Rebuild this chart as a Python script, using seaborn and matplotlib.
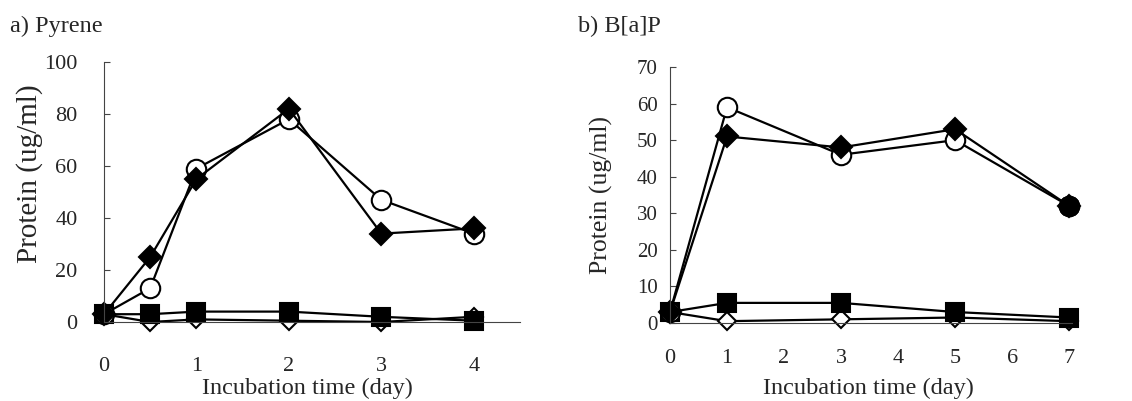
import matplotlib
matplotlib.use("Agg")
import matplotlib.pyplot as plt
import pandas as pd
import seaborn as sns

sns.set_theme(style="white")
plt.rcParams['font.family'] = ['Liberation Serif', 'DejaVu Serif']

# a) Pyrene
days_a = [0, 0.5, 1, 2, 3, 4]
pyr_filled_diamond = [3, 25, 55, 82, 34, 36]
pyr_open_circle = [3, 13, 59, 78, 47, 34]
pyr_filled_square = [3, 3, 4, 4, 2, 0.5]
pyr_open_diamond = [3, 0, 1, 0.5, 0, 2]

# b) B[a]P
days_b = [0, 1, 3, 5, 7]
bap_open_circle = [3, 59, 46, 50, 32]
bap_filled_diamond = [3, 51, 48, 53, 32]
bap_filled_square = [3, 5.5, 5.5, 3, 1.5]
bap_open_diamond = [3, 0.5, 1, 1.5, 0.5]
bap_filled_circle_x = [7]
bap_filled_circle = [32]

styles = {
    "open_diamond": dict(marker="D", markersize=9, markerfacecolor="white"),
    "filled_square": dict(marker="s", markersize=13, markerfacecolor="black"),
    "open_circle": dict(marker="o", markersize=14, markerfacecolor="white"),
    "filled_diamond": dict(marker="D", markersize=11, markerfacecolor="black"),
    "filled_circle": dict(marker="o", markersize=14, markerfacecolor="black"),
}


def draw(ax, x, y, kind):
    st = styles[kind]
    sns.lineplot(x=x, y=y, ax=ax, color="black", linewidth=1.6,
                 markeredgecolor="black", markeredgewidth=1.5,
                 clip_on=False, **st)


fig = plt.figure(figsize=(11.32, 4.01), dpi=100)
ax1 = fig.add_axes([104 / 1132, 1 - 322 / 401, 416 / 1132, 260 / 401])
ax2 = fig.add_axes([670 / 1132, 1 - 323 / 401, 402 / 1132, 256 / 401])

draw(ax1, days_a, pyr_open_diamond, "open_diamond")
draw(ax1, days_a, pyr_filled_square, "filled_square")
draw(ax1, days_a, pyr_open_circle, "open_circle")
draw(ax1, days_a, pyr_filled_diamond, "filled_diamond")

draw(ax2, days_b, bap_open_diamond, "open_diamond")
draw(ax2, days_b, bap_filled_square, "filled_square")
draw(ax2, days_b, bap_open_circle, "open_circle")
draw(ax2, days_b, bap_filled_diamond, "filled_diamond")
draw(ax2, bap_filled_circle_x, bap_filled_circle, "filled_circle")

ax1.set_xlim(0, 4.5)
ax1.set_ylim(0, 100)
ax1.set_xticks([0, 1, 2, 3, 4])
ax1.set_yticks([0, 20, 40, 60, 80, 100])
ax2.set_xlim(0, 7.05)
ax2.set_ylim(0, 70)
ax2.set_xticks(range(8))
ax2.set_yticks(range(0, 71, 10))

for ax in (ax1, ax2):
    for s in ("top", "right"):
        ax.spines[s].set_visible(False)
    for s in ("left", "bottom"):
        ax.spines[s].set_color("#444444")
        ax.spines[s].set_linewidth(0.8)
    ax.grid(False)

ax1.tick_params(axis="y", direction="in", length=4, width=0.8,
                color="#444444", left=True, labelsize=16, pad=19)
ax1.tick_params(axis="x", length=0, labelsize=16, pad=25)
ax2.tick_params(axis="y", direction="in", length=4, width=0.8,
                color="#444444", left=True, labelsize=15, pad=9)
ax2.tick_params(axis="x", length=0, labelsize=16, pad=19)

ax1.set_xlabel("Incubation time (day)", fontsize=17.5)
ax1.set_ylabel("Protein (ug/ml)", fontsize=21)
ax2.set_xlabel("Incubation time (day)", fontsize=17.5)
ax2.set_ylabel("Protein (ug/ml)", fontsize=18.5)
ax1.xaxis.set_label_coords(0.488, -0.215)
ax2.xaxis.set_label_coords(0.4925, -0.215)
ax1.yaxis.set_label_coords(-0.147, 0.57)
ax2.yaxis.set_label_coords(-0.142, 0.5)

fig.text(10 / 1132, 1 - 32 / 401, "a) Pyrene", fontsize=17.5, ha="left")
fig.text(578 / 1132, 1 - 32 / 401, "b) B[a]P", fontsize=17.5, ha="left")

fig.savefig("out.png", dpi=100)
